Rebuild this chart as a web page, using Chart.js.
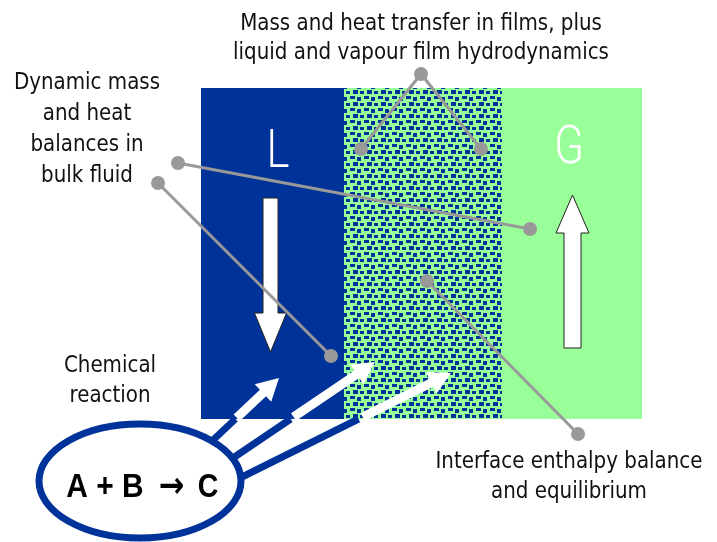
<!DOCTYPE html>
<html>
<head>
<meta charset="utf-8">
<script src="https://cdn.jsdelivr.net/npm/chart.js@4.4.0/dist/chart.umd.min.js"></script>
<style>
  html, body { margin: 0; padding: 0; background: #fff; }
  #wrap { width: 717px; height: 542px; }
</style>
</head>
<body>
<div id="wrap"><canvas id="diagram"></canvas></div>
<script>
// column bounds of the film diagram (x: L | interface films | G)
const columnEdges = [201, 344, 502, 642];
const columnSpan = [88, 419];
const phaseLabels = ['L', 'G'];
const phaseLabelPos = [[278, 167], [569, 163]];

// bulk flow arrows [tail, tip]
const liquidFlow = [[270.5, 198], [270.5, 352]];
const vapourFlow = [[572.5, 348], [572.5, 195]];

// reaction arrows [start on ellipse, tip]
const reactionArrows = [
  [[212, 441], [279, 378]],
  [[233, 458], [375, 362]],
  [[242, 477], [451, 373]]
];
const reactionEllipse = [140, 481, 101, 57];

// grey callout leaders
const calloutFilms = [[361, 149], [421, 74], [481, 149]];
const calloutBulk = [[178, 163], [530, 229]];
const calloutReaction = [[158, 183], [331, 356]];
const calloutInterface = [[427, 281], [578, 434]];

// texts
const headerLines = ['Mass and heat transfer in films, plus', 'liquid and vapour film hydrodynamics'];
const bulkLines = ['Dynamic mass', 'and heat', 'balances in', 'bulk fluid'];
const reactionLines = ['Chemical', 'reaction'];
const interfaceLines = ['Interface enthalpy balance', 'and equilibrium'];
const equationParts = ['A + B', '\u2192', 'C'];

const BLUE = '#003399';
const GREEN = '#99ff99';
const GREY = '#999999';
const FONT = '"DejaVu Sans Condensed", "Liberation Sans Narrow", sans-serif';

function makePattern(ctx) {
  const tile = document.createElement('canvas');
  tile.width = 14; tile.height = 12;
  const t = tile.getContext('2d');
  t.fillStyle = GREEN;
  t.fillRect(0, 0, 14, 12);
  t.fillStyle = BLUE;
  t.fillRect(0, 0, 5, 3);
  t.fillRect(7, 1, 4, 4);
  t.fillRect(3, 6, 5, 4);
  t.fillRect(10, 7, 4, 3);
  return ctx.createPattern(tile, 'repeat');
}

function pts(list) {
  return list.map(p => ({ x: p[0], y: p[1] }));
}

const diagramPlugin = {
  id: 'diagram',
  beforeDatasetsDraw(chart) {
    const ctx = chart.ctx;
    const sx = v => chart.scales.x.getPixelForValue(v);
    const sy = v => chart.scales.y.getPixelForValue(v);
    const top = sy(columnSpan[0]), bottom = sy(columnSpan[1]);

    ctx.save();
    // columns
    const fills = [BLUE, makePattern(ctx), GREEN];
    for (let i = 0; i < 3; i++) {
      ctx.fillStyle = fills[i];
      ctx.fillRect(sx(columnEdges[i]), top, sx(columnEdges[i + 1]) - sx(columnEdges[i]), bottom - top);
    }

    // L and G
    ctx.fillStyle = '#fff';
    ctx.textAlign = 'center';
    ctx.textBaseline = 'alphabetic';
    ctx.font = '300 53px Roboto, sans-serif';
    phaseLabels.forEach((s, i) => {
      ctx.save();
      ctx.translate(sx(phaseLabelPos[i][0]), sy(phaseLabelPos[i][1]));
      ctx.scale(0.82, 1);
      ctx.fillText(s, 0, 0);
      ctx.restore();
    });

    // arrow helper, in pixel space
    function arrow(a, b, shaftHalf, headHalf, headLen, fill, stroke) {
      const x1 = sx(a[0]), y1 = sy(a[1]), x2 = sx(b[0]), y2 = sy(b[1]);
      const len = Math.hypot(x2 - x1, y2 - y1);
      const ux = (x2 - x1) / len, uy = (y2 - y1) / len;
      const nx = -uy, ny = ux;
      const bx = x2 - ux * headLen, by = y2 - uy * headLen;
      ctx.beginPath();
      ctx.moveTo(x1 + nx * shaftHalf, y1 + ny * shaftHalf);
      ctx.lineTo(bx + nx * shaftHalf, by + ny * shaftHalf);
      ctx.lineTo(bx + nx * headHalf, by + ny * headHalf);
      ctx.lineTo(x2, y2);
      ctx.lineTo(bx - nx * headHalf, by - ny * headHalf);
      ctx.lineTo(bx - nx * shaftHalf, by - ny * shaftHalf);
      ctx.lineTo(x1 - nx * shaftHalf, y1 - ny * shaftHalf);
      ctx.closePath();
      ctx.fillStyle = fill;
      ctx.fill();
      if (stroke) {
        ctx.strokeStyle = stroke;
        ctx.lineWidth = 1;
        ctx.stroke();
      }
    }

    arrow(liquidFlow[0], liquidFlow[1], 7.5, 16, 39, '#fff', '#222');
    arrow(vapourFlow[0], vapourFlow[1], 8.5, 16.5, 38, '#fff', '#222');

    // reaction: blue leg below the columns, white arrow inside
    reactionArrows.forEach(([a, b]) => {
      const t = (a[1] - columnSpan[1]) / (a[1] - b[1]);
      const j = [a[0] + (b[0] - a[0]) * t, columnSpan[1]];
      ctx.strokeStyle = BLUE;
      ctx.lineWidth = 7;
      ctx.lineCap = 'butt';
      ctx.beginPath();
      ctx.moveTo(sx(a[0]), sy(a[1]));
      ctx.lineTo(sx(j[0]), sy(j[1]));
      ctx.stroke();
      arrow([j[0] + (b[0] - a[0]) * 0.02, j[1] + (b[1] - a[1]) * 0.02], b, 4.5, 12, 22, '#fff', null);
    });

    // reaction ellipse
    const [ecx, ecy, erx, ery] = reactionEllipse;
    ctx.beginPath();
    ctx.ellipse(sx(ecx), sy(ecy), Math.abs(sx(ecx + erx) - sx(ecx)), Math.abs(sy(ecy + ery) - sy(ecy)), 0, 0, Math.PI * 2);
    ctx.fillStyle = '#fff';
    ctx.fill();
    ctx.strokeStyle = BLUE;
    ctx.lineWidth = 7;
    ctx.stroke();

    // texts
    ctx.fillStyle = '#111';
    ctx.font = '23px ' + FONT;
    const block = (lines, cx, y0, dy) => lines.forEach((s, i) => {
      ctx.save();
      ctx.translate(sx(cx), sy(y0 + i * dy));
      ctx.scale(0.96, 1);
      ctx.fillText(s, 0, 0);
      ctx.restore();
    });
    block(headerLines, 421, 30, 29);
    block(bulkLines, 87, 89, 31);
    block(reactionLines, 110, 372, 30);
    block(interfaceLines, 569, 468, 30);

    // equation: letters, a larger arrow glyph, letter
    ctx.fillStyle = '#000';
    const piece = (s, font, cx, k) => {
      ctx.font = font;
      ctx.save();
      ctx.translate(sx(cx), sy(497));
      ctx.scale(k, 1);
      ctx.fillText(s, 0, 0);
      ctx.restore();
    };
    piece(equationParts[0], 'bold 34px "Liberation Sans", sans-serif', 105, 0.88);
    piece(equationParts[1], 'bold 36px "DejaVu Sans", sans-serif', 171.5, 0.85);
    piece(equationParts[2], 'bold 34px "Liberation Sans", sans-serif', 208, 0.84);
    ctx.restore();
  }
};

const leader = data => ({
  data: pts(data),
  showLine: true,
  borderColor: GREY,
  borderWidth: 3,
  pointRadius: 7,
  pointHoverRadius: 7,
  pointBackgroundColor: GREY,
  pointBorderWidth: 0
});

new Chart(document.getElementById('diagram'), {
  type: 'scatter',
  data: {
    datasets: [calloutFilms, calloutBulk, calloutReaction, calloutInterface].map(leader)
  },
  options: {
    responsive: true,
    maintainAspectRatio: false,
    animation: false,
    layout: { padding: 0, autoPadding: false },
    plugins: { legend: { display: false }, tooltip: { enabled: false } },
    scales: {
      x: { type: 'linear', min: 0, max: 717, display: false },
      y: { type: 'linear', min: 0, max: 542, reverse: true, display: false }
    }
  },
  plugins: [diagramPlugin]
});
</script>
</body>
</html>
